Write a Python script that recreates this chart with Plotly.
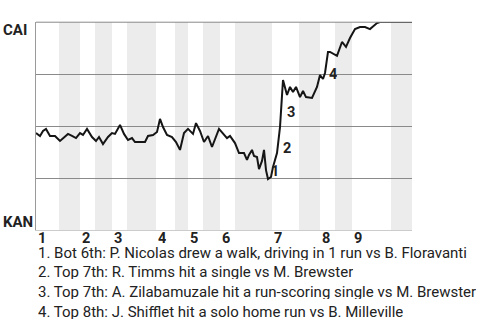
import plotly.graph_objects as go

# Game progress (plays, arbitrary units) and CAI win probability (%)
progress = [0, 1, 1.75, 2.5, 3.5, 4.75, 6, 8, 9, 10,
            11, 11.75, 12.75, 14, 15, 15.75, 16.75, 18, 19, 19.75,
            21, 22, 23, 24, 24.75, 27.25, 28, 29.25, 30.25, 31,
            31.75, 32.75, 34, 35, 36, 37, 38, 39.25, 40, 41,
            42, 43, 44, 45.75, 47.75, 48.5, 49.75, 50.75, 52, 52.75,
            53.25, 54, 54.5, 55.25, 55.75, 56.5, 57, 57.5, 58, 58.75,
            59.25, 60.25, 61, 61.75, 62.75, 63.5, 64.25, 65, 66, 66.75,
            67.5, 69, 70.25, 71, 71.75, 72.25, 73, 73.5, 75.25, 76.5,
            77.5, 78.5, 79.75, 81, 82.25, 83.5, 85.25, 86, 94]
win_prob = [46.6, 45.2, 47.6, 48.6, 45.2, 45.2, 42.8, 46.2, 45.2, 44.2,
            46.6, 45.7, 48.6, 44.7, 42.8, 44.7, 41.3, 44.7, 46.6, 46.2,
            50.5, 46.2, 43.3, 44.2, 42.3, 42.3, 45.2, 45.7, 47.1, 53.4,
            49.5, 45.7, 44.7, 42.3, 38.5, 46.6, 48.6, 46.2, 51.4, 47.6,
            42.3, 45.2, 39.9, 48.6, 44.2, 45.2, 41.8, 37.0, 37.0, 33.7,
            36.1, 38.5, 35.6, 35.1, 29.3, 33.2, 38.5, 28.8, 24.5, 25.5,
            30.3, 37.0, 49.5, 72.1, 64.9, 68.8, 66.3, 68.8, 63.9, 66.8,
            63.9, 63.5, 68.8, 74.5, 72.6, 75.5, 85.6, 85.6, 83.7, 90.4,
            88.0, 92.3, 96.6, 97.6, 97.6, 96.6, 99.5, 100, 100]

game_end = 94
inning_starts = [0, 11, 19, 30, 38, 46, 59, 71, 79]
inning_labels = ["1", "2", "3", "4", "5", "6", "7", "8", "9"]
bottom_halves = [(5.75, 11), (14.75, 19), (22.75, 30), (34.75, 38), (41.75, 46),
                 (49.75, 59), (65.75, 71), (74.75, 79), (88.75, 94)]

event_nums = ["1", "2", "3", "4"]
event_x = [58.25, 61.25, 62.25, 72.75]
event_y = [28.4, 39.4, 56.7, 75.0]
event_texts = [
    "1. Bot 6th: P. Nicolas drew a walk, driving in 1 run vs B. Floravanti",
    "2. Top 7th: R. Timms hit a single vs M. Brewster",
    "3. Top 7th: A. Zilabamuzale hit a run-scoring single vs M. Brewster",
    "4. Top 8th: J. Shifflet hit a solo home run vs B. Milleville",
]
team_top = "CAI"
team_bottom = "KAN"

FONT = "Roboto"
TXT = "#222222"

fig = go.Figure()
fig.add_trace(go.Scatter(x=progress, y=win_prob, mode="lines",
                         line=dict(color="#151515", width=2),
                         hoverinfo="skip", showlegend=False))

shapes = []
for a, b in bottom_halves:
    shapes.append(dict(type="rect", xref="x", yref="paper", x0=a, x1=b, y0=0, y1=1,
                       fillcolor="#ececec", line=dict(width=0), layer="below"))
# top border line (100% gridline)
shapes.append(dict(type="line", xref="paper", yref="paper", x0=0, x1=1,
                   y0=0.999, y1=0.999,
                   line=dict(color="#8a8a8a", width=1), layer="above"))

annotations = []
for s, lab in zip(inning_starts, inning_labels):
    annotations.append(dict(x=s, y=0, xref="x", yref="paper", text=f"<b>{lab}</b>",
                            showarrow=False, xanchor="left", yanchor="middle",
                            xshift=0, yshift=-8, height=12,
                            font=dict(family=FONT, size=14.5, color=TXT)))
for n, ex, ey in zip(event_nums, event_x, event_y):
    annotations.append(dict(x=ex, y=ey, xref="x", yref="y", text=f"<b>{n}</b>",
                            showarrow=False, xanchor="left", yanchor="middle",
                            height=14,
                            font=dict(family=FONT, size=14.5, color=TXT)))
for i, t in enumerate(event_texts):
    annotations.append(dict(x=0, y=0, xref="paper", yref="paper", text=t,
                            showarrow=False, xanchor="left", yanchor="middle",
                            yshift=-22.5 - 19.7 * i, height=14,
                            font=dict(family=FONT, size=15, color=TXT)))
annotations.append(dict(x=0, y=1, xref="paper", yref="paper", text=f"<b>{team_top}</b>",
                        showarrow=False, xanchor="left", yanchor="middle",
                        xshift=-35, yshift=-7, height=15,
                        font=dict(family=FONT, size=15, color=TXT)))
annotations.append(dict(x=0, y=0, xref="paper", yref="paper", text=f"<b>{team_bottom}</b>",
                        showarrow=False, xanchor="left", yanchor="middle",
                        xshift=-35, yshift=9, height=15,
                        font=dict(family=FONT, size=15, color=TXT)))

fig.update_layout(
    width=480, height=320,
    margin=dict(l=36, r=68, t=22, b=90, pad=0),
    paper_bgcolor="white", plot_bgcolor="white",
    shapes=shapes, annotations=annotations,
    showlegend=False,
    xaxis=dict(range=[0, game_end], showgrid=False, zeroline=False,
               showticklabels=False, ticks="", showline=True,
               linecolor="#cccccc", linewidth=1, fixedrange=True),
    yaxis=dict(range=[0, 100], tickvals=[25, 50, 75], showgrid=True,
               gridcolor="#8a8a8a", gridwidth=1, zeroline=False,
               showticklabels=False, ticks="", showline=True,
               linecolor="#9a9a9a", linewidth=1, fixedrange=True),
    font=dict(family=FONT, color=TXT),
)

fig.write_html("out.html")
